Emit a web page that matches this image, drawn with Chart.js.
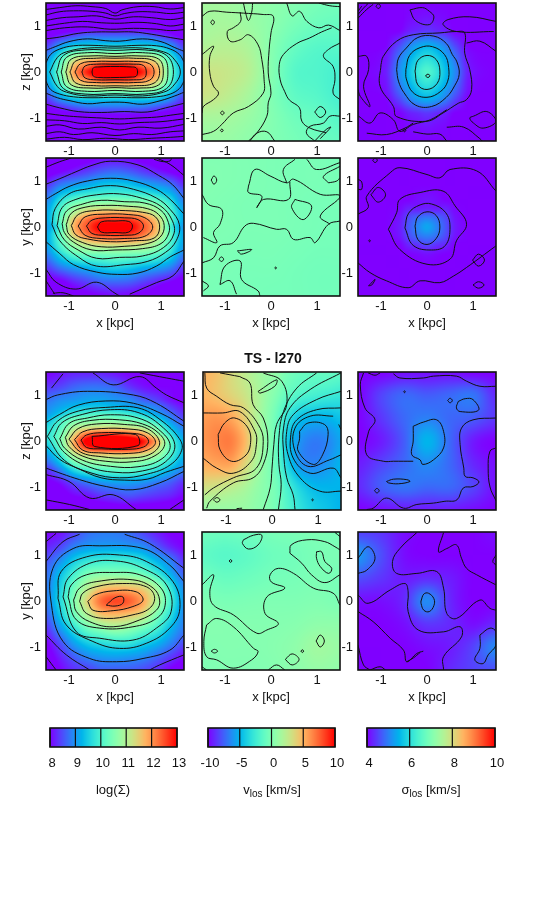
<!DOCTYPE html>
<html><head><meta charset="utf-8">
<script src="https://cdn.jsdelivr.net/npm/chart.js@4"></script>
<style>
html,body{margin:0;padding:0;background:#fff;width:550px;height:900px;overflow:hidden}
#fig{position:relative;width:550px;height:900px;font-family:"Liberation Sans",sans-serif;color:#111}
canvas{position:absolute}
.lbl{position:absolute;font-size:13px;transform:translate(-50%,-50%);white-space:nowrap}
.lbl sub{font-size:10px;vertical-align:-3px;line-height:0}
#ttl{font-weight:bold;font-size:14px}
</style></head><body><div id="fig"></div>
<script>
const tickValues=[-1,0,1];
const sigmaTicks=[8,9,10,11,12,13];
const velTicks=[-10,-5,0,5,10];
const dispTicks=[4,6,8,10];
const xs11=[-1.5,-1.2,-.9,-.6,-.3,0,.3,.6,.9,1.2,1.5];
const ys17=[1.5,1.2,.9,.75,.6,.45,.3,.15,0,-.15,-.3,-.45,-.6,-.75,-.9,-1.2,-1.5];
const ys15=[1.5,1.2,.9,.75,.6,.45,.3,.15,0,-.15,-.3,-.45,-.6,-.9,-1.2,-1.5];
const ys11=[1.5,1.2,.9,.6,.3,0,-.3,-.6,-.9,-1.2,-1.5];
const xs7=[-1.5,-1,-.5,0,.5,1,1.5];
const xsDisp=[-1.5,-.9,-.6,-.4,-.2,0,.2,.4,.6,.9,1.5];
const xsVel=[-1.5,-1.2,-.9,-.6,-.3,-.1,.1,.3,.6,.9,1.2,1.5];

const fillA=[
[6,6,6,6,6,6,6,6,6,6,6],[7,7,7,7,7,7,7,7,7,7,7],
[7.6,7.8,7.95,8.1,8.1,8.1,8.1,8.1,7.95,7.8,7.6],
[8,8.3,8.6,8.8,8.8,8.8,8.8,8.8,8.6,8.3,8],
[8.3,8.9,9.3,9.4,9.4,9.4,9.4,9.4,9.3,8.9,8.3],
[8.6,9.4,10.1,10.3,10.3,10.3,10.3,10.3,10.1,9.4,8.6],
[8.9,9.9,11,11.4,11.5,11.5,11.5,11.4,11,9.9,8.9],
[9.1,10.2,11.6,12.2,12.7,12.8,12.7,12.2,11.6,10.2,9.1],
[9.2,10.3,11.9,12.8,13.4,13.5,13.4,12.8,11.9,10.3,9.2],
[9.1,10.2,11.6,12.2,12.7,12.8,12.7,12.2,11.6,10.2,9.1],
[8.9,9.9,11,11.4,11.5,11.5,11.5,11.4,11,9.9,8.9],
[8.6,9.4,10.1,10.3,10.3,10.3,10.3,10.3,10.1,9.4,8.6],
[8.3,8.9,9.3,9.4,9.4,9.4,9.4,9.4,9.3,8.9,8.3],
[8,8.3,8.6,8.8,8.8,8.8,8.8,8.8,8.6,8.3,8],
[7.6,7.8,7.95,8.1,8.1,8.1,8.1,8.1,7.95,7.8,7.6],
[7,7,7,7,7,7,7,7,7,7,7],[6,6,6,6,6,6,6,6,6,6,6]];
const contA=[
[-1.5,1.36,-1.2,1.4,-.85,1.44,-.5,1.42,-.2,1.38,0,1.28,.15,1.35,.5,1.42,.85,1.42,1.2,1.37,1.5,1.4],
[-1.5,1.24,-1.2,1.31,-.9,1.33,-.5,1.32,-.2,1.28,0,1.22,.2,1.27,.5,1.31,.9,1.3,1.2,1.27,1.5,1.3],
[-1.5,1.12,-1.15,1.18,-.8,1.2,-.4,1.22,0,1.15,.4,1.2,.8,1.18,1.2,1.14,1.5,1.18],
[-1.5,1,-1.1,1.06,-.7,1.1,-.3,1.07,.1,1.06,.5,1.08,.9,1.05,1.2,1,1.5,1.04],
[-1.5,.9,-1.1,.96,-.6,.98,-.1,.93,.4,.95,.9,.93,1.2,.9,1.5,.92],
[-1.5,.72,-1.2,.76,-.8,.84,-.4,.87,0,.87,.4,.87,.8,.82,1.2,.75,1.5,.7],
[-1.5,.47,-1.3,.55,-1,.66,-.6,.72,-.2,.68,.1,.67,.6,.72,1,.66,1.3,.53,1.5,.45],
[-1.5,.2,-1.4,.38,-1.2,.5,-.9,.57,-.5,.58,0,.56,.5,.58,.9,.57,1.2,.5,1.4,.38,1.5,.22],
[-1.5,-.2,-1.4,-.38,-1.2,-.48,-.9,-.54,-.5,-.56,0,-.55,.5,-.56,.9,-.54,1.2,-.48,1.4,-.36,1.5,-.2],
[-1.5,-.46,-1.25,-.56,-1,-.62,-.6,-.69,-.2,-.66,.2,-.66,.6,-.7,1,-.62,1.3,-.52,1.5,-.44],
[-1.5,-.7,-1.2,-.78,-.8,-.86,-.3,-.88,.2,-.86,.7,-.87,1.1,-.78,1.5,-.68],
[-1.5,-.9,-1.1,-.95,-.7,-.98,-.3,-1,.1,-1.02,.5,-1,.9,-.98,1.2,-.94,1.5,-.9],
[-1.5,-1.04,-1.1,-1.06,-.7,-1.12,-.3,-1.1,.1,-1.13,.5,-1.1,1,-1.08,1.5,-1.02],
[-1.5,-1.18,-1.2,-1.15,-.8,-1.24,-.3,-1.2,.1,-1.26,.5,-1.2,1,-1.22,1.5,-1.14],
[-1.5,-1.34,-1.2,-1.3,-.9,-1.36,-.5,-1.32,0,-1.38,.4,-1.34,.8,-1.36,1.2,-1.3,1.5,-1.28],
[-1.5,-1.46,-1.1,-1.42,-.7,-1.47,-.2,-1.44,.3,-1.47,.8,-1.44,1.2,-1.42,1.5,-1.4],
[-.5,0,-.47,.09,-.35,.11,0,.12,.35,.11,.46,.09,.49,0,.46,-.09,.35,-.11,0,-.12,-.35,-.12,-.47,-.09,-.5,0],
[-.72,0,-.65,.13,-.4,.17,0,.17,.4,.17,.62,.14,.68,0,.63,-.14,.4,-.17,0,-.17,-.4,-.17,-.65,-.13,-.72,0],
[-.87,0,-.75,.18,-.4,.23,0,.23,.4,.23,.75,.18,.85,0,.75,-.18,.4,-.23,0,-.23,-.4,-.23,-.75,-.18,-.87,0],
[-.98,0,-.85,.24,-.4,.3,0,.3,.4,.3,.85,.24,.97,0,.85,-.24,.4,-.3,0,-.3,-.4,-.3,-.85,-.24,-.98,0],
[-1.07,0,-.95,.28,-.5,.35,0,.34,.5,.35,.95,.28,1.05,0,.95,-.28,.5,-.35,0,-.34,-.5,-.35,-.95,-.28,-1.07,0],
[-1.17,0,-1.05,.32,-.6,.42,0,.4,.6,.42,1.05,.32,1.15,0,1.05,-.32,.6,-.42,0,-.4,-.6,-.42,-1.05,-.32,-1.17,0],
[-1.27,0,-1.12,.36,-.65,.48,0,.47,.65,.48,1.12,.36,1.27,0,1.12,-.36,.65,-.48,0,-.47,-.65,-.48,-1.12,-.36,-1.27,0],
[-1.42,0,-1.25,.32,-1.05,.44,-.6,.52,0,.52,.6,.52,1.05,.44,1.25,.32,1.42,0,1.25,-.32,1.05,-.44,.6,-.52,0,-.5,-.6,-.52,-1.05,-.44,-1.25,-.32,-1.42,0]];

const fillB=[
[1.5,1.4,1,.6,.2,-.3,-.5],[1.5,1.6,1.2,.5,-.3,-.8,-1],[2,2.2,1.8,.3,-1,-1.6,-1.6],
[3,2.8,2.2,.3,-1.5,-1.8,-2.2],[3,2.5,1.6,.1,-1.2,-1.6,-2.2],[1.6,1.5,1,.2,-.6,-1,-1.6],[1,1,.6,.1,-.3,-.7,-1]];
const contB=[
[-1.5,1.21,-1.33,1.32,-.96,1.3,-.6,1.28,-.17,1.25,.05,1.21,0,.85,-.04,.49,-.06,-.02,0,-.46,-.06,-.67,-.09,-.96,-.31,-1.33,-.49,-1.5],
[-.67,1.3,-.66,1.1,-.82,.96,-.95,.88,-.89,.67,-.67,.7,-.49,.81,-.28,.59,-.2,.27,-.15,-.17,-.17,-.46,-.49,-.75,-.82,-.89,-1.07,-1.14,-1.25,-1.29,-1.5,-1.36],
[-1.5,.38,-1.25,.56,-1.33,.34,-1.33,-.02,-1.25,-.31,-1.14,-.46,-1.25,-.6,-1.47,-.75,-1.5,-.89],
[-1.31,1.08,-1.27,1.13,-1.23,1.08,-1.27,1.03,-1.31,1.08],
[-1.1,-.89,-1.06,-.85,-1.02,-.89,-1.06,-.93,-1.1,-.89],
[-1.1,-1.27,-1.07,-1.24,-1.04,-1.27,-1.07,-1.3,-1.1,-1.27],
[.34,1.5,.46,1.22,.62,1.32,.78,1.1,1.04,.96,1.25,1.02,1.5,.9],
[1.32,.96,1.1,.87,.84,.74,.56,.62,.27,.38,.18,.16,.2,-.17,.3,-.43,.4,-.61,.62,-.78,.67,-1.07,.85,-1.22,1.2,-1.32],
[1.5,.63,1.25,.49,1.14,.34,1.35,.12,1.39,-.17,1.35,-.46,1.5,-.6],
[.95,-.87,1.07,-.75,1.19,-.87,1.07,-.99,.95,-.87],
[1.5,-.96,1.28,-.96,1.14,-1.11,.85,-1.18,.77,-1.33,.95,-1.5],
[.95,-1.5,1.2,-1.25,1.3,-1.2,1.07,-1.45],
[-.46,-1.5,-.31,-1.33,-.09,-1.3,.08,-1.5],
[-.6,1.5,-.55,1.28,-.49,1.12,-.42,1.3,-.4,1.5],
[1.04,1.5,1.28,1.44,1.5,1.42]];

const fillC=[
[4,4,4,4,4,4,4,4,4,4,4],[4,4,4,4.2,4.3,4.4,4.3,4.2,4,4,4],
[4,4,4.5,4.95,5.25,5.4,5.25,4.95,4.5,4,4],[4,4.1,4.8,5.25,5.65,5.85,5.65,5.25,4.8,4.1,4],
[4,4.15,5,5.5,5.95,6.2,5.95,5.5,5,4.15,4],[4,4.2,5.1,5.6,6.15,6.45,6.15,5.6,5.1,4.2,4],
[4,4.15,5,5.5,5.95,6.2,5.95,5.5,5,4.15,4],[4,4.1,4.8,5.25,5.65,5.85,5.65,5.25,4.8,4.1,4],
[4,4,4.5,4.95,5.25,5.4,5.25,4.95,4.5,4,4],[4,4,4,4.2,4.3,4.4,4.3,4.2,4,4,4],[4,4,4,4,4,4,4,4,4,4,4]];
const contC=[
[-.03,-.09,0,-.05,.05,-.06,.06,-.09,.02,-.12,-.03,-.09],
[-.26,.02,-.2,.25,0,.36,.2,.27,.28,.02,.22,-.25,0,-.38,-.2,-.28,-.26,.02],
[-.46,.05,-.38,.36,-.15,.53,.12,.55,.38,.38,.47,.1,.45,-.2,.3,-.42,0,-.55,-.3,-.45,-.45,-.15,-.46,.05],
[-.66,.05,-.62,.3,-.45,.52,-.2,.75,.15,.78,.42,.62,.55,.38,.65,.22,.7,-.05,.6,-.3,.42,-.55,.1,-.75,-.25,-.72,-.5,-.45,-.62,-.2,-.66,.05],
[-1,.16,-.95,.34,-.66,.67,-.3,.81,.28,.85,.64,.88,.82,.85,.82,.41,.93,.05,.97,-.38,.86,-.6,.68,-.68,.35,-.89,0,-1.07,-.66,-.97,-.73,-.75,-1.02,-.31,-1,.16],
[-1.5,.34,-1.31,.34,-1.27,.05,-1.38,-.31,-1.24,-.75,-1.45,-.53,-1.5,-.38],
[-.37,1.35,-.25,1.12,.05,1.03,.15,1.2,.05,1.32,-.1,1.4,-.37,1.35],
[1.5,1.1,.93,1.2,.46,1.14,.35,1.03,.64,.88,1.45,.88],
[.86,.63,1.15,.67,1.5,.45],
[-1.5,1.17,-1.31,1.36,-1.17,1.47],[-1.5,1.25,-1.38,1.39,-1.28,1.49],[-1.5,1.32,-1.42,1.43],
[-1.11,1.43,-1.06,1.48,-1.01,1.43,-1.06,1.38,-1.11,1.43],
[-1.49,-.96,-1.24,-1.11,-1.02,-.89,-.73,-1.04,-.59,-1.29,-.3,-1.14,.07,-1.04,.43,-.82],
[-1.31,-1.33,-.88,-1.36,-.48,-1.22,-.3,-1.11],
[1.01,-.96,1.3,-.86,1.5,-1.07,1.22,-1.22,1.01,-1.11,.93,-1,1.01,-.96],
[-.3,-1.3,0,-1.35,.28,-1.35,.43,-1.5],[.43,-1.2,.8,-1.2,1.15,-1.45,1.2,-1.5],
[-.52,-1.27,-.49,-1.24,-.46,-1.27,-.49,-1.3,-.52,-1.27]];

const fillD=[
[7.3,7.5,7.8,7.9,8.05,8.1,8.05,7.9,7.8,7.5,7.3],
[7.8,8,8.2,8.4,8.6,8.7,8.6,8.4,8.2,8,7.8],
[8.3,8.8,9.05,9.2,9.4,9.45,9.4,9.2,9.05,8.8,8.3],
[8.6,9.2,9.5,9.7,9.8,9.85,9.8,9.7,9.5,9.2,8.6],
[8.8,9.6,10.1,10.3,10.35,10.4,10.35,10.3,10.1,9.6,8.8],
[9,9.9,10.6,10.9,11,11,11,10.9,10.6,9.9,9],
[9.1,10.1,11,11.6,11.85,11.9,11.85,11.6,11,10.1,9.1],
[9.1,10.2,11.55,12.3,12.7,12.7,12.7,12.3,11.55,10.2,9.1],
[9,10,11.7,12.5,13.1,13.2,13.1,12.5,11.7,10,9],
[9.1,10.2,11.55,12.3,12.7,12.7,12.7,12.3,11.55,10.2,9.1],
[9.1,10.1,11,11.6,11.85,11.9,11.85,11.6,11,10.1,9.1],
[9,9.9,10.6,10.9,11,11,11,10.9,10.6,9.9,9],
[8.8,9.5,10.1,10.3,10.35,10.4,10.35,10.3,10.1,9.6,8.8],
[8.3,8.7,9,9.2,9.4,9.5,9.4,9.2,9.05,8.8,8.3],
[7.8,7.9,8.2,8.4,8.6,8.65,8.6,8.4,8.2,8,7.8],
[7.3,7.5,7.8,7.9,8,8.05,8,7.9,7.8,7.5,7.3]];
const contD=[
[-.38,0,-.3,.11,0,.13,.3,.12,.38,.02,.3,-.11,0,-.12,-.3,-.11,-.38,0],
[-.62,.02,-.5,.15,-.2,.2,.2,.2,.5,.16,.62,.02,.5,-.14,.2,-.18,-.2,-.18,-.5,-.14,-.62,.02],
[-.8,.02,-.65,.22,-.2,.28,.3,.27,.65,.2,.82,0,.65,-.2,.2,-.25,-.3,-.25,-.65,-.18,-.8,.02],
[-.95,.03,-.8,.27,-.4,.36,.1,.36,.6,.32,.88,.22,.97,-.02,.85,-.24,.4,-.3,-.1,-.32,-.6,-.26,-.85,-.17,-.95,.03],
[-1.06,.05,-.95,.3,-.65,.43,-.2,.47,.3,.45,.7,.4,.95,.27,1.07,.03,.98,-.22,.7,-.36,.2,-.42,-.3,-.43,-.7,-.34,-1,-.16,-1.06,.05],
[-1.15,.07,-1.05,.35,-.7,.5,-.3,.58,.2,.55,.65,.52,1,.36,1.16,.1,1.17,-.13,1,-.36,.6,-.47,0,-.5,-.5,-.5,-.9,-.33,-1.1,-.12,-1.15,.07],
[-1.26,.03,-1.15,.42,-.85,.6,-.4,.7,.1,.72,.6,.62,1,.45,1.24,.15,1.28,-.15,1.05,-.45,.6,-.63,.1,-.66,-.4,-.68,-.8,-.5,-1.1,-.28,-1.26,.03],
[-1.37,.05,-1.3,.4,-1,.72,-.6,.83,-.1,.9,.4,.82,.9,.63,1.2,.38,1.4,.05,1.33,-.3,1.1,-.55,.7,-.75,.2,-.82,-.4,-.85,-.8,-.65,-1.2,-.3,-1.37,.05],
[-1.5,.6,-1.3,.72,-1,.88,-.6,1,-.1,1.06,.4,1,.9,.82,1.2,.6,1.5,.28],
[-1.5,-.32,-1.2,-.58,-.9,-.82,-.4,-.98,.05,-1.03,.5,-1,.9,-.85,1.2,-.65,1.5,-.5],
[-1.5,.93,-1.2,1.05,-.85,1.2,-.5,1.34,-.1,1.43,.5,1.35,.95,1.12,1.25,.92,1.5,.62],
[-1.5,1.3,-1.2,1.42,-.95,1.5],[.85,1.47,1.05,1.42,1.2,1.44,1.23,1.5],[.9,1.5,1.2,1.36,1.5,1.12],
[-1.5,-.92,-1.28,-1.2,-.85,-1.35,-.4,-1.2,0,-1.44,.1,-1.5],
[1.5,-.74,1.26,-1.06,.9,-1.21,.32,-1.46],
[-1.5,-1.17,-1.31,-1.46],[-1.35,-1.44,-1.13,-1.43,-.9,-1.5]];

const fillE=[
[.1,.1,0,-.1,-.2,-.2,-.3],[.2,.1,0,-.1,-.2,-.2,-.3],[.1,0,-.1,-.1,-.2,-.3,-.3],
[0,0,-.1,-.1,-.2,-.3,-.4],[0,-.1,-.2,-.2,-.3,-.4,-.4],[-.1,-.2,-.3,-.3,-.4,-.5,-.5],[-.2,-.3,-.3,-.4,-.4,-.5,-.5]];
const contE=[
[-1.5,-.78,-1.25,-.67,-1.11,-.41,-.82,-.34,-.57,.02,-.38,.08,.12,-.05,.34,-.05,.49,-.27,.85,-.23,.96,-.34,1.25,.06,1.5,.13],
[-1.5,.71,-1.36,.49,-1.07,.38,-1.11,.06,-1.25,-.12,-1.18,-.34,-1.47,-.23],
[-.49,.89,-.35,1.25,-.02,1.11,.34,.96,.49,1.04,1.07,.71,1.5,.67,1.07,.24,1.28,.06],
[-.49,.89,-.49,.75,-.2,.67,-.31,.42,-.16,.6,.38,.6,.41,.99],
[.52,.6,.45,.42,.7,.16,.88,.46,.52,.6],
[.34,.96,.27,1.25,.52,1.47],[.78,1.47,.99,1.25,1.5,1.4],[1.25,.96,1.14,1.1,1.5,1.32],[1.25,.96,1.43,1,1.5,1.07],
[-1.3,1.02,-1.24,1.11,-1.18,1.02,-1.24,.93,-1.3,1.02],
[-.73,-.52,-.42,-.49,-.64,-.59,-.73,-.52],
[-1.13,-.7,-1.08,-.65,-1.03,-.7,-1.08,-.75,-1.13,-.7],
[.08,-.89,.1,-.87,.12,-.89,.1,-.91,.08,-.89],
[-1.11,-1.25,-1,-.85,-.67,-.74,-.64,-1.14,-.28,-1.39,-.24,-1.5],
[-1.11,-1.25,-.89,-1.17,-.75,-1.46],
[-1.5,-1.17,-1.36,-1.28,-1.47,-1.39]];

const fillF=[
[4,4,4,4,4,4,4,4,4,4,4],[4,4,4,4,4,4,4,4,4,4,4],[4,4,4,4,4.1,4.15,4.1,4,4,4,4],
[4,4,4.05,4.25,4.2,4.25,4.2,4.25,4.05,4,4],[4,4,4.15,4.55,4.8,4.95,4.8,4.55,4.15,4,4],
[4,4,4.2,4.65,5.05,5.35,5.05,4.65,4.2,4,4],
[4,4,4.15,4.55,4.85,5,4.85,4.55,4.15,4,4],[4,4,4,4.25,4.35,4.5,4.35,4.25,4,4,4],[4,4,4,4,4.05,4.1,4.05,4,4,4,4],[4,4,4,4,4,4,4,4,4,4,4],[4,4,4,4,4,4,4,4,4,4,4]];
const contF=[
[-.26,.02,-.2,.22,0,.33,.2,.25,.28,0,.2,-.25,0,-.38,-.2,-.27,-.26,.02],
[-.48,-.02,-.4,.3,-.15,.48,.1,.5,.4,.32,.5,0,.4,-.4,.1,-.5,-.3,-.4,-.48,-.02],
[-.84,-.05,-.66,.31,-.59,.6,-.15,.75,.35,.78,.61,.46,.86,.06,.64,-.3,.5,-.7,0,-.81,-.59,-.49,-.84,-.05],
[-1.5,.28,-1.28,.42,-1.31,.67,-.8,1.18,-.59,1.29,0,1.14,.28,1.07,.5,1.25,1.08,1.22,1.5,.78],
[-1.22,.7,-1.06,.86,-.9,.7,-1.06,.54,-1.22,.7],
[-1.5,-.78,-1.24,-.99,-.88,-1.17,-.41,-1.32,-.15,-1.17,.28,-1.21,.57,-1.07,.86,-.88,1.5,-.41],
[.99,-.72,1.12,-.59,1.25,-.72,1.12,-.85,.99,-.72],
[1,-1.26,1.12,-1.19,1.24,-1.26,1.12,-1.33,1,-1.26],
[-1.27,-1.28,-1.13,-1.14,-1.2,-1.26,-1.27,-1.28],
[-1.5,1.04,-1.42,.98,-1.42,.82,-1.5,.82],
[-1.18,1.45,-1.13,1.5,-1.08,1.45,-1.13,1.4,-1.18,1.45],
[-1.27,-.3,-1.25,-.28,-1.23,-.3,-1.25,-.32,-1.27,-.3]];

const fillG=[
[8,8.1,8.2,8.2,8.2,8.1,8,8,8,8,8],
[8.3,8.4,8.6,8.7,8.7,8.6,8.3,8.1,8,8,8],
[8.7,8.9,9,9.1,9.1,9,8.9,8.6,8.4,8.1,7.9],
[8.9,9.1,9.3,9.4,9.4,9.3,9.15,9,8.8,8.4,8.1],
[9,9.4,9.8,9.95,10,9.95,9.8,9.5,9.1,8.7,8.3],
[9.3,9.9,10.4,10.5,10.6,10.55,10.4,10.2,9.7,9,8.5],
[9.6,10.1,10.9,11.2,11.3,11.3,11.2,10.9,10.4,9.4,8.8],
[9.7,10.3,11.4,12.3,12.6,12.6,12.4,11.9,10.9,9.8,9],
[9.6,10.4,11.8,13.2,13.5,13.5,13.4,12.9,11.8,10.2,9.2],
[9.3,10.2,11.6,12.6,12.9,13,12.9,12.4,11.4,10.2,9.3],
[9,9.8,11,11.4,11.5,11.5,11.5,11.3,10.9,10,9.3],
[8.7,9.4,10.4,10.7,10.8,10.8,10.8,10.6,10.3,9.7,9.1],
[8.3,8.9,9.7,10.1,10.2,10.3,10.3,10.1,9.8,9.3,8.9],
[7.9,8.1,8.5,8.8,9,9.1,9.1,9,8.8,8.6,8.3],
[7.6,7.8,8,8.1,8.3,8.4,8.5,8.4,8.3,8.2,8],
[7.5,7.5,7.6,7.7,7.7,7.8,7.8,7.8,7.8,7.7,7.6]];
const contG=[
[-.5,.1,.45,.14,.5,-.1,-.44,-.12,-.5,.1],
[-.74,.02,-.62,.13,-.3,.18,.3,.17,.62,.12,.73,-.01,.62,-.13,.3,-.18,-.3,-.17,-.62,-.14,-.74,.02],
[-.88,.03,-.7,.2,-.3,.27,.3,.26,.7,.18,.88,-.03,.7,-.2,.3,-.27,-.3,-.26,-.7,-.2,-.88,.03],
[-1,.04,-.8,.27,-.4,.37,.2,.36,.7,.27,.97,-.03,.78,-.28,.3,-.37,-.3,-.34,-.75,-.24,-1,.04],
[-1.08,.08,-.9,.33,-.5,.45,.1,.46,.6,.37,.95,.17,1.08,-.08,.85,-.33,.4,-.45,-.2,-.44,-.7,-.33,-1,-.12,-1.08,.08],
[-1.2,.05,-1,.38,-.6,.5,-.1,.57,.5,.5,.95,.25,1.2,-.1,1,-.4,.5,-.56,-.1,-.55,-.7,-.42,-1.1,-.15,-1.2,.05],
[-1.33,.1,-1.15,.4,-.7,.58,-.1,.68,.5,.62,1,.33,1.3,-.08,1.1,-.45,.6,-.65,0,-.68,-.6,-.55,-1.1,-.25,-1.33,.1],
[-1.47,.1,-1.25,.43,-.8,.65,-.2,.73,.5,.72,1,.45,1.4,.05,1.45,-.2,1.2,-.52,.7,-.72,.1,-.8,-.5,-.7,-1.1,-.42,-1.47,.1],
[-1.5,.4,-1.2,.58,-.8,.78,-.2,.87,.4,.82,1,.6,1.5,.32],
[-1.5,-.1,-1.2,-.4,-.8,-.6,-.3,-.8,.2,-.85,.7,-.83,1.1,-.68,1.5,-.55],
[-1.5,.9,-1.25,1,-.6,1.08,.4,1,.9,.82,1.5,.43],
[-1.38,1.15,-1.13,1.46],
[-.48,1.48,-.04,1.22,.54,1.4,.9,1.15,1.12,1,1.5,.83],
[.54,1.48,1.12,1.37,1.5,1.3],
[-1.5,-.73,-1,-.88,-.55,-1.24,-.04,-1.17,.46,-1.49],
[-1.5,-1.28,-.99,-1.38,-.55,-1.49],
[1.19,-1.49,1.5,-1.28],
[1.5,-.66,.97,-.91,.39,-1.06,-.19,-.99,-.77,-.84,-1.5,-.59]];

const fillH=[
[5,4.5,3.5,2.5,1.5,1,.7,-.2,-.8,-1,-1,-1.2],
[5,4.5,3.8,3,1.8,.8,0,-1,-1.8,-2.2,-2.5,-2.8],
[5.8,6,5.5,4,1.8,.5,-.8,-2.8,-4.5,-5,-5,-4.5],
[6,6.5,6.7,5,2,.5,-1,-4,-6,-6.8,-6.5,-5.5],
[5.2,5.5,5.5,3.8,1.5,.2,-1,-3.5,-6,-6.5,-6,-5],
[3.2,3,2.5,1.8,.8,.2,-.5,-2,-3.8,-4.8,-5,-5],
[1,1,1,1,.5,.2,-.5,-1.5,-3,-4,-4.5,-5]];
const contH=[
[-1.17,.14,-1.03,.39,-.81,.5,-.52,.28,-.47,-.08,-.59,-.33,-.88,-.44,-1.13,-.19,-1.17,.14],
[.6,.21,.78,.39,1.14,.36,1.22,.14,1.1,-.3,.9,-.51,.57,-.22,.6,.06,.6,.21],
[-1.5,.61,-1.07,.61,-.7,.64,-.37,.21,-.34,-.08,-.45,-.44,-.84,-.7,-1.2,-.59,-1.5,-.37],
[-1.46,1.48,-1.42,1.15,-1.2,.97,-.91,.79,-.62,.72,-.3,.36,-.19,-.01,-.34,-.59,-.84,-.8,-1.27,-1.02,-1.46,-1.17],
[-.7,1.4,-.48,1.26,-.41,.79,-.19,.5,-.09,-.01,-.19,-.51,-.41,-.8,-.84,-.91,-1.35,-1.31,-1.42,-1.46],
[-1.13,1.48,-.7,1.4],
[-.19,1.48,.21,1.3,.32,.79,.1,.36,.04,-.08,0,-.59,-.04,-1.02,-.19,-1.49],
[.97,1.48,.54,1.15,.25,.64,.15,.07,.15,-.51,.2,-.95,.14,-1.49],
[1.5,1.48,.83,1.12,.39,.72,.25,.28,.25,-.22,.32,-.8,.46,-1.17,.5,-1.49],
[1.5,1.08,.97,.9,.46,.57,.32,.21,.35,-.3,.61,-.8,1.04,-1.09,1.5,-1.09],
[1.5,.72,.97,.68,.54,.46,.41,.14,.46,-.37,.83,-.7,1.33,-.59,1.5,-.8],
[1.33,.54,.83,.54,.5,.28,.5,-.22,.78,-.55,1.25,-.41,1.5,-.3],
[-.3,1.08,.1,1.33,.06,1.19,-.26,1.04,-.3,1.08],
[1.45,.36,1.5,.25],
[.86,-1.28,.88,-1.26,.9,-1.28,.88,-1.3,.86,-1.28],
[-1.27,-1.28,-1.2,-1.23,-1.13,-1.28,-1.2,-1.33,-1.27,-1.28],
[-.77,-1.47,-.65,-1.46]];

const fillI=[
[4,4,4.1,4.1,4.1,4,4],[4,4.5,4.8,4.7,4.8,4.9,4.3],[4,4.4,4.8,5,4.8,4.7,4.4],
[4,4.2,4.7,5.5,4.8,4.2,4],[4.2,4.5,4.8,5.1,4.8,4.3,4.1],[4.3,4.7,4.9,4.8,4.8,4.5,4.1],[4,4.1,4.2,4.2,4.2,4.1,4]];
const contI=[
[-.3,.32,-.08,.41,.21,.46,.36,.21,.36,-.15,.14,-.41,-.09,-.51,-.15,-.41,-.33,-.3,-.3,0,-.3,.32],
[.68,.86,.83,.92,1,.9,1.12,.67,.72,.64,.64,.72,.68,.86],
[-.88,-.88,-.73,-.83,-.44,-.84,-.37,-.88,-.62,-.93,-.84,-.91,-.88,-.88],
[-1.14,-1.08,-1.09,-1.03,-1.04,-1.08,-1.09,-1.13,-1.14,-1.08],
[.45,.88,.5,.93,.55,.88,.5,.83,.45,.88],
[-.51,1.07,-.49,1.09,-.47,1.07,-.49,1.05,-.51,1.07],
[-1.38,1.48,-1.45,1.22,-1.35,.72,-1.13,.46,-1.27,.2,-1.31,-.3,-.95,-.44,-.73,-.44,-.3,-.44],
[1.5,.5,1,.46,.75,.28,.72,-.08,.8,-.59,.83,-.77,1,-.8,1.13,-.89,1,-.99,.79,-1.02,.65,-1.28,.39,-1.31,.14,-1.35,-.22,-1.38,-.51,-1.46,-.88,-1.24,-1.17,-1.46,-1.31,-1.49],
[1.5,-.15,1.37,-.22,1.33,-.59,1.37,-1,1.5,-1.3],
[-.73,1.46,-.59,1.37,-.08,1.37,.14,1.41,.64,1.41,.86,1.3,1.15,1.19,1.5,1.19],
[-1.28,1.48,-1.13,1.43,-1.02,1.48]];

const fillJ=[
[8,8.1,8.4,8.7,8.8,8.8,8.7,8.45,8.2,8,8],
[8.2,8.4,8.8,9,9.05,9.05,9,8.9,8.55,8.2,8],
[8.5,8.9,9.4,9.7,9.8,9.85,9.8,9.6,9.2,8.8,8.3],
[8.7,9.3,9.9,10.4,10.55,10.55,10.5,10.3,9.85,9.2,8.6],
[8.8,9.5,10.3,11,11.5,11.65,11.6,11.4,10.8,9.8,8.9],
[8.8,9.6,10.5,11.45,12.3,12.55,12.4,11.9,11,10,9],
[8.6,9.4,10.3,11,11.6,11.7,11.6,11.3,10.5,9.7,8.9],
[8.3,9,9.7,10.3,10.6,10.8,10.65,10.35,9.95,9.3,8.8],
[8,8.5,9.1,9.5,9.7,9.8,9.8,9.55,9.3,8.9,8.5],
[7.8,8.2,8.6,8.9,9.05,9.1,9.05,8.95,8.7,8.4,8.1],
[7.6,8,8.3,8.4,8.6,8.6,8.6,8.5,8.3,8,7.8]];
const contJ=[
[-.19,-.09,0,.07,.17,.09,.17,-.05,0,-.11,-.19,-.09],
[-.59,-.01,-.44,.13,-.04,.22,.46,.2,.61,.02,.39,-.12,-.04,-.21,-.48,-.2,-.59,-.01],
[-.77,-.01,-.7,.17,-.41,.31,.17,.38,.68,.31,.86,.09,.75,-.16,.39,-.3,-.19,-.38,-.62,-.27,-.77,-.01],
[-.9,.02,-.77,.28,-.41,.42,.39,.46,.83,.28,.97,.02,.9,-.2,.54,-.41,-.04,-.56,-.55,-.45,-.84,-.23,-.9,.02],
[-1.02,.09,-.95,.35,-.62,.57,-.04,.62,.54,.57,1,.28,1.09,-.09,.9,-.38,.39,-.56,-.33,-.59,-.84,-.41,-1.02,.09],
[-1.13,.09,-1.02,.49,-.55,.82,.03,.87,.61,.71,1.12,.35,1.22,-.23,.9,-.59,.39,-.85,-.33,-.81,-.84,-.67,-1.13,.09],
[-1.24,.06,-1.17,.64,-.62,.96,.1,1,.68,.86,1.26,.42,1.41,-.16,1.19,-.59,.68,-.92,.1,-1.03,-.48,-.88,-1.06,-.52,-1.24,.06],
[1.5,.42,1.19,.78,.61,1.14,-.33,1.2,-.91,1.14,-1.35,.71,-1.38,-.09,-1.13,-.88,-.55,-1.25,.03,-1.32,.61,-1.25,1.19,-1.07,1.5,-.74],
[-1.5,.86,-1.13,1.29,-.77,1.45],[.21,1.45,.75,1.25,1.5,.71],[1.5,-1.17,.97,-1.39,.75,-1.5],[-1.5,-1.21,-1.28,-1.5],[-1.5,-.74,-1.06,-1.17,-.55,-1.5],[-1.5,1.29,-1.28,1.47]];

const fillK=[
[-.6,-.8,-.6,-.3,-.2,-.1,-.3],[-1.2,-1.5,-1.2,-.7,-.5,-.2,-.1],[-.5,-.9,-.7,-.4,-.3,-.1,-.3],
[0,-.2,-.1,0,0,.1,-.1],[.3,.2,.2,.2,.3,.6,.6],[.1,.2,.2,.3,.6,1.3,1],[0,.1,.1,.2,.5,.9,.7]];
const contK=[
[-.6,1.33,-.38,1.43,-.2,1.43,-.28,1.22,-.49,1.13,-.62,1.25,-.6,1.33],
[-.91,.87,-.88,.9,-.85,.87,-.88,.84,-.91,.87],
[.41,1.04,.44,1.22,.78,1.33,1.17,1.29,1.39,1.18,1.5,1.11],
[.41,1.04,.67,.82,.88,.57,1.17,.4,1.5,.57],
[.99,1.07,1.1,1.07,1.17,.86,1.32,.71,1.25,.6,1.07,.75,.99,.93,.99,1.07],
[-1.5,.35,-1.25,.57,-1.33,.2,-1.25,-.09,-.82,-.3,-.31,-.7,-.09,-.63,.16,-.49,-.13,-.27,-.09,.09,.3,.28,.01,.41,-.02,.57,.16,.71,.49,.6,.92,.28,1.35,.17,1.5,-.09],
[-1.4,-.52,-1.18,-.38,-.82,-.56,-.38,-1.03,-.28,-1.1,-.42,-1.28,-.82,-1.46,-1.18,-1.28,-1.4,-1.21,-1.46,-.88,-1.4,-.52],
[-1.3,-1.09,-1.23,-1.05,-1.16,-1.09,-1.23,-1.13,-1.3,-1.09],
[.31,-1.27,.46,-1.15,.61,-1.27,.46,-1.39,.31,-1.27],
[.65,-1.09,.68,-1.06,.71,-1.09,.68,-1.12,.65,-1.09],
[.98,-.87,1.07,-.74,1.16,-.87,1.07,-1,.98,-.87],
[-.06,-1.5,.12,-1.39,.3,-1.5],[-1.5,-1.43,-1.4,-1.5],[1.39,1.49,1.5,1.4]];

const fillL=[
[4.5,4.4,4.1,4,4,4,4.1],[5.2,4.6,4.1,4,4,4,4],[4.6,4.4,4.2,4.3,4.2,4,4],
[4.1,4.1,4.3,5.1,4.3,4,4],[4,4,4.1,4.4,4.3,4.1,4.3],[4,4,4,4.1,4.2,4.5,5.1],[4,4,4,4,4.3,4.5,4.6]];
const contL=[
[-1.5,.93,-1.28,1.18,-1.13,.93,-1.31,.67,-1.5,.6],
[-.13,0,-.07,.15,.03,.17,.15,.05,.15,-.1,.05,-.23,-.07,-.2,-.13,-.05,-.13,0],
[-.22,1.49,-.59,1.14,-.75,.86,-.66,.6,-.22,.6,.21,.64,.36,.28,.43,-.27,.64,-.38,1.15,.02,1.37,-.16,1.5,-.2],
[-1.5,.13,-1.28,-.05,-.8,.24,-.48,.38,-.41,.2,-.41,-.23,-.19,-.63,.36,-.67,.72,-.56,.75,-.78,.36,-1.21,.36,-1.5],
[-1.5,-.23,-1.17,-.45,-.8,-.81,-.51,-1.07,-.44,-1.32,-.22,-1.14,-.08,-1.09],
[-.44,-1.32,-.3,-1.24,-.15,-1.12],
[-1.5,-.96,-1.38,-1.39,-1.24,-1.5],[-1.24,-1.5,-1.02,-1.43,-.9,-1.5],
[1.15,-.74,1.37,-.59,1.5,-.67,1.5,-.96,1.33,-1.17,1.22,-1.36,1.04,-1.28,1.15,-1.03,1.15,-.74],
[.36,1.49,.25,1.07,.43,1.14,.64,1.22,.75,.93,.86,.71,1.08,.57,1.5,.35],
[1.5,1,1.43,.86,1.5,.78]];

const panels=[
 {id:'A',x:46,y:3,g:[xs11,ys17,fillA],c:contA,r:[8,13],yt:'z [kpc]',xt:''},
 {id:'B',x:202,y:3,g:[xs7,xs7.slice().reverse(),fillB],c:contB,r:[-10,10],yt:'',xt:''},
 {id:'C',x:358,y:3,g:[xsDisp,xsDisp.slice().reverse(),fillC],c:contC,r:[4,10],yt:'',xt:''},
 {id:'D',x:46,y:158,g:[xs11,ys15,fillD],c:contD,r:[8,13],yt:'y [kpc]',xt:'x [kpc]'},
 {id:'E',x:202,y:158,g:[xs7,xs7.slice().reverse(),fillE],c:contE,r:[-10,10],yt:'',xt:'x [kpc]'},
 {id:'F',x:358,y:158,g:[xsDisp,xsDisp.slice().reverse(),fillF],c:contF,r:[4,10],yt:'',xt:'x [kpc]'},
 {id:'G',x:46,y:372,g:[xs11,ys15,fillG],c:contG,r:[8,13],yt:'z [kpc]',xt:''},
 {id:'H',x:203,y:372,g:[xsVel,xs7.slice().reverse(),fillH],c:contH,r:[-10,10],yt:'',xt:''},
 {id:'I',x:358,y:372,g:[xs7,xs7.slice().reverse(),fillI],c:contI,r:[4,10],yt:'',xt:''},
 {id:'J',x:46,y:532,g:[xs11,ys11,fillJ],c:contJ,r:[8,13],yt:'y [kpc]',xt:'x [kpc]'},
 {id:'K',x:202,y:532,g:[xs7,xs7.slice().reverse(),fillK],c:contK,r:[-10,10],yt:'',xt:'x [kpc]'},
 {id:'L',x:358,y:532,g:[xs7,xs7.slice().reverse(),fillL],c:contL,r:[4,10],yt:'',xt:'x [kpc]'}];

const FONT='"Liberation Sans", sans-serif', INK='#111';
Chart.defaults.font.family=FONT; Chart.defaults.font.size=13; Chart.defaults.color=INK;
function rgb(t){t=Math.min(1,Math.max(0,t));
 return [Math.min(1,Math.abs(2*t-.5))*255,Math.sin(Math.PI*t)*255,Math.cos(Math.PI*t/2)*255];}
function indexOf(a,v){ // a ascending
 if(v<=a[0])return 0; const n=a.length-1; if(v>=a[n])return n;
 let i=0; while(a[i+1]<v)i++; return i+(v-a[i])/(a[i+1]-a[i]);}
function cr(p0,p1,p2,p3,t){return .5*(2*p1+(p2-p0)*t+(2*p0-5*p1+4*p2-p3)*t*t+(3*p1-p0-3*p2+p3)*t*t*t);}
function sampler(xs,ys,rows){
 const ya=ys.slice().reverse(), ra=rows.slice().reverse(), nx=xs.length, ny=ya.length;
 const at=(j,i)=>ra[Math.min(ny-1,Math.max(0,j))][Math.min(nx-1,Math.max(0,i))];
 return (x,y)=>{const fx=indexOf(xs,x),fy=indexOf(ya,y),i=Math.min(nx-2,Math.floor(fx)),j=Math.min(ny-2,Math.floor(fy)),tx=fx-i,ty=fy-j;
  const c=[];for(let k=-1;k<3;k++)c.push(cr(at(j+k,i-1),at(j+k,i),at(j+k,i+1),at(j+k,i+2),tx));
  return cr(c[0],c[1],c[2],c[3],ty);};}
const heatPlugin={id:'heat',beforeDatasetsDraw(ch,a,o){
 if(!o.grid)return; const [xs,ys,rows]=o.grid,[lo,hi]=o.range,s=sampler(xs,ys,rows),ar=ch.chartArea;
 const w=Math.round(ar.right-ar.left),h=Math.round(ar.bottom-ar.top),img=new ImageData(w,h);
 for(let py=0;py<h;py++){const yv=ch.scales.y.getValueForPixel(ar.top+py+.5);
  for(let px=0;px<w;px++){const c=rgb((s(ch.scales.x.getValueForPixel(ar.left+px+.5),yv)-lo)/(hi-lo)),q=(py*w+px)*4;
   img.data[q]=c[0];img.data[q+1]=c[1];img.data[q+2]=c[2];img.data[q+3]=255;}}
 const t=document.createElement('canvas');t.width=w;t.height=h;t.getContext('2d').putImageData(img,0,0);
 ch.ctx.drawImage(t,ar.left,ar.top);
},afterDraw(ch){const ar=ch.chartArea,c=ch.ctx;c.save();c.strokeStyle='#111';c.lineWidth=1.6;
 c.strokeRect(ar.left,ar.top,ar.right-ar.left,ar.bottom-ar.top);c.restore();}};
const barPlugin={id:'bar',beforeDatasetsDraw(ch,a,o){ if(!o.range)return;
 const ar=ch.chartArea,[lo,hi]=o.range,c=ch.ctx;
 for(let px=Math.floor(ar.left);px<ar.right;px++){const v=ch.scales.x.getValueForPixel(px+.5),q=rgb((v-lo)/(hi-lo));
  c.fillStyle=`rgb(${q[0]|0},${q[1]|0},${q[2]|0})`;c.fillRect(px,ar.top,1,ar.bottom-ar.top);}
 c.save();c.strokeStyle='#111';c.lineWidth=1.2;
 ch.scales.x.ticks.forEach(t=>{const X=ch.scales.x.getPixelForValue(t.value);c.beginPath();c.moveTo(X,ar.top);c.lineTo(X,ar.bottom);c.stroke();});
 c.restore();}};
const fig=document.getElementById('fig');
function addCanvas(l,t,w,h){const c=document.createElement('canvas');c.width=w;c.height=h;c.style.left=l+'px';c.style.top=t+'px';c.style.width=w+'px';c.style.height=h+'px';fig.appendChild(c);return c;}
function toPts(f){const p=[];for(let i=0;i<f.length;i+=2)p.push({x:f[i],y:f[i+1]});return p;}
const fix=(prop,v)=>s=>{s[prop]=v;s.paddingTop=0;s.paddingBottom=0;s.paddingLeft=0;s.paddingRight=0;};
panels.forEach(p=>{
 const PW=138,PH=138,L=46,T=3,R=4,B=42;
 const cv=addCanvas(p.x-L,p.y-T,L+PW+R,T+PH+B);
 const cells=[];p.g[1].forEach((yv,j)=>p.g[0].forEach((xv,i)=>cells.push({x:xv,y:yv,v:p.g[2][j][i]})));
 const ds=p.c.map(f=>({type:'scatter',data:toPts(f),showLine:true,tension:.4,borderColor:'#111',borderWidth:1,pointRadius:0,fill:false}));
 ds.push({type:'scatter',label:'cells',data:cells,pointRadius:0,showLine:false});
 new Chart(cv,{type:'scatter',data:{datasets:ds},plugins:[heatPlugin],options:{
  responsive:false,animation:false,events:[],layout:{autoPadding:false,padding:{left:0,top:T,right:R,bottom:0}},
  plugins:{legend:{display:false},tooltip:{enabled:false},heat:{grid:p.g,range:p.r}},
  scales:{
   x:{type:'linear',min:-1.5,max:1.5,grid:{display:false,drawTicks:false},border:{display:false},afterBuildTicks(s){s.ticks=tickValues.map(v=>({value:v}));},
      ticks:{padding:3,maxRotation:0,callback:v=>String(v),font:{size:13},color:INK},afterFit:fix('height',B),
      title:{display:!!p.xt,text:p.xt,font:{size:13},color:INK,padding:{top:0,bottom:7}}},
   y:{type:'linear',min:-1.5,max:1.5,grid:{display:false,drawTicks:false},border:{display:false},afterBuildTicks(s){s.ticks=tickValues.map(v=>({value:v}));},
      ticks:{padding:5,callback:v=>String(v),font:{size:13},color:INK},afterFit:fix('width',L),
      title:{display:!!p.yt,text:p.yt,font:{size:13},color:INK,padding:{top:19,bottom:0}}}
  }}});
});
[{x:50,w:127,r:[8,13],t:sigmaTicks},{x:208,w:127,r:[-10,10],t:velTicks},{x:367,w:128,r:[4,10],t:dispTicks}].forEach(b=>{
 const M=22,H=19,B=30;
 const cv=addCanvas(b.x-M,728-2,b.w+2*M,2+H+B);
 new Chart(cv,{type:'scatter',data:{datasets:[{data:b.t.map(v=>({x:v,y:0})),pointRadius:0}]},plugins:[barPlugin,{id:'frame',afterDraw(ch){const ar=ch.chartArea,c=ch.ctx;c.save();c.strokeStyle='#111';c.lineWidth=1.6;c.strokeRect(ar.left,ar.top,ar.right-ar.left,ar.bottom-ar.top);c.restore();}}],options:{
  responsive:false,animation:false,events:[],layout:{autoPadding:false,padding:{left:M,right:M,top:2,bottom:0}},
  plugins:{legend:{display:false},tooltip:{enabled:false},bar:{range:b.r}},
  scales:{
   x:{type:'linear',min:b.r[0],max:b.r[1],grid:{display:false,drawTicks:false},border:{display:false},afterBuildTicks(s){s.ticks=b.t.map(v=>({value:v}));},
      ticks:{padding:9,labelOffset:2,maxRotation:0,callback:v=>String(v),font:{size:13},color:INK},afterFit:fix('height',B)},
   y:{display:false,min:-1,max:1}
  }}});
});
function label(html,x,y,id){const d=document.createElement('div');d.className='lbl';d.innerHTML=html;d.style.left=x+'px';d.style.top=y+'px';if(id)d.id=id;fig.appendChild(d);}
label('TS - l270',273,358,'ttl');
label('log(Σ)',113,789);
label('v<sub>los</sub> [km/s]',272,789);
label('σ<sub>los</sub> [km/s]',431,789);
</script></body></html>
